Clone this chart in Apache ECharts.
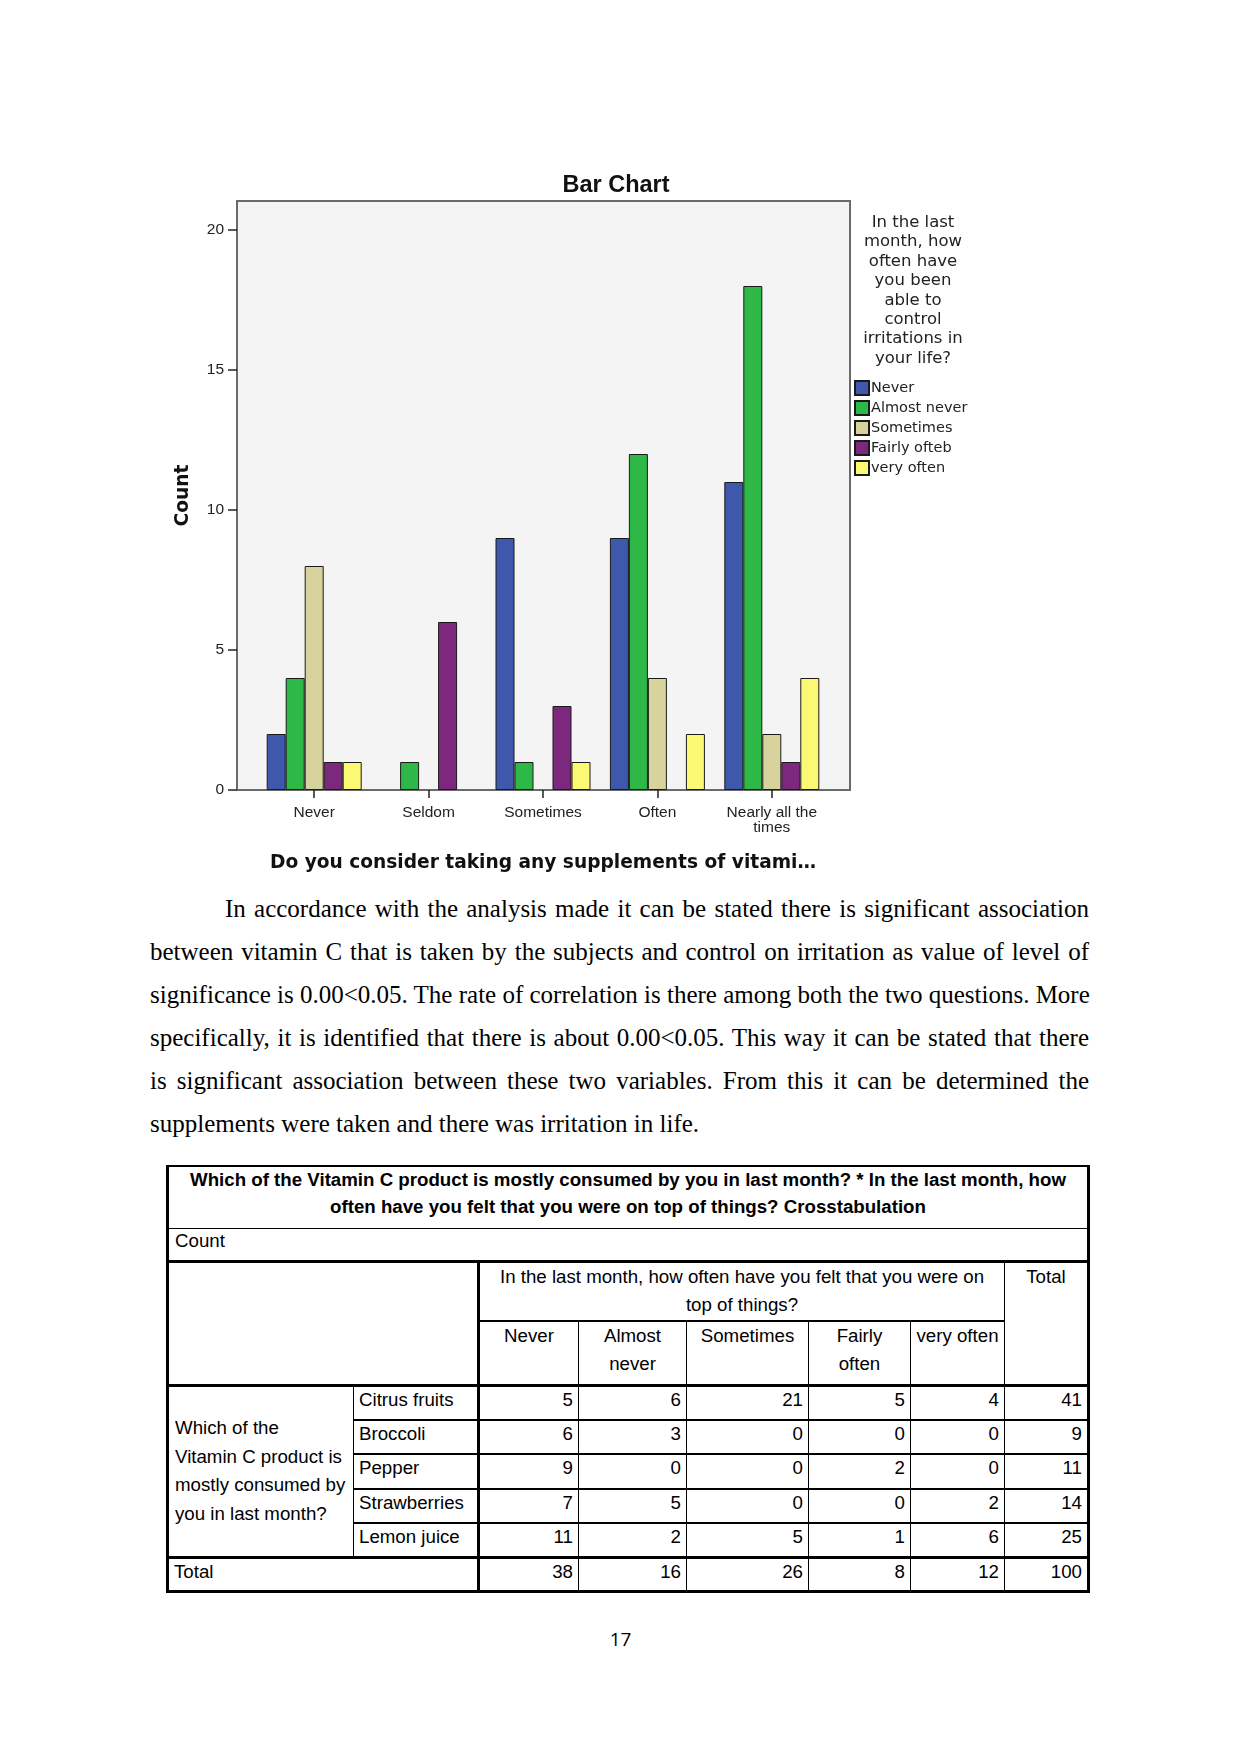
<!DOCTYPE html>
<html>
<head>
<meta charset="utf-8">
<script src="https://cdn.jsdelivr.net/npm/echarts@6/dist/echarts.min.js"></script>
<style>
  html, body { margin: 0; padding: 0; background: #fff; }
  body { width: 1241px; height: 1754px; position: relative; overflow: hidden; }
  #chart { position: absolute; left: 0; top: 0; width: 1241px; height: 880px; }
  #para { position: absolute; left: 150px; top: 887px; width: 939px;
          font-family: "Liberation Serif", "Times New Roman", serif; font-size: 25px;
          line-height: 43px; color: #000; }
  #para div { white-space: nowrap; text-align: justify; text-align-last: justify; }
  #para div.first { padding-left: 75px; }
  #para div.last { text-align: left; text-align-last: left; }
  #tbl { position: absolute; left: 166px; top: 1165px; border-collapse: collapse;
         font-family: "Liberation Sans", Arial, sans-serif; font-size: 18.7px; color: #000; }
  #tbl td { padding: 0 5px; vertical-align: top; line-height: 28px; box-sizing: border-box; }
  #pg { position: absolute; left: 0; width: 1241px; top: 1626px; text-align: center;
        font-family: "Open Sans", Lato, sans-serif; font-size: 19px; }
</style>
</head>
<body>
<div id="chart"></div>
<div id="para"></div>
<table id="tbl"></table>
<div id="pg">17</div>
<script>
// ---------------- chart data ----------------
var categories = ['Never', 'Seldom', 'Sometimes', 'Often', 'Nearly all the\ntimes'];
var seriesNames = ['Never', 'Almost never', 'Sometimes', 'Fairly ofteb', 'very often'];
var seriesColors = ['#3E58AC', '#2EB848', '#D8D29C', '#7C287D', '#FBF873'];
var valNever       = [2, 0, 9, 9, 11];
var valAlmostNever = [4, 1, 1, 12, 18];
var valSometimes   = [8, 0, 0, 4, 2];
var valFairlyOften = [1, 6, 3, 0, 1];
var valVeryOften   = [1, 0, 1, 2, 4];
var yTicks = [0, 5, 10, 15, 20];
var chartTitle = 'Bar Chart';
var xAxisTitle = 'Do you consider taking any supplements of vitami\u2026';
var yAxisTitle = 'Count';
var legendTitle = 'In the last\nmonth, how\noften have\nyou been\nable to\ncontrol\nirritations in\nyour life?';

// ---------------- page text / table data ----------------
var paragraphLines = [
  'In accordance with the analysis made it can be stated there is significant association',
  'between vitamin C that is taken by the subjects and control on irritation as value of level of',
  'significance is 0.00<0.05. The rate of correlation is there among both the two questions. More',
  'specifically, it is identified that there is about 0.00<0.05. This way it can be stated that there',
  'is significant association between these two variables. From this it can be determined the',
  'supplements were taken and there was irritation in life.'
];
var tableTitle = 'Which of the Vitamin C product is mostly consumed by you in last month? * In the last month, how often have you felt that you were on top of things? Crosstabulation';
var colGroupTitle = 'In the last month, how often have you felt that you were on top of things?';
var colHeads = ['Never', 'Almost<br>never', 'Sometimes', 'Fairly<br>often', 'very often'];
var rowGroupLines = ['Which of the', 'Vitamin C product is', 'mostly consumed by', 'you in last month?'];
var rowNames = ['Citrus fruits', 'Broccoli', 'Pepper', 'Strawberries', 'Lemon juice'];
var tabNever     = [5, 6, 9, 7, 11];
var tabAlmost    = [6, 3, 0, 5, 2];
var tabSometimes = [21, 0, 0, 0, 5];
var tabFairly    = [5, 0, 2, 0, 1];
var tabVery      = [4, 0, 0, 2, 6];
var rowTotals    = [41, 9, 11, 14, 25];
var colTotals    = [38, 16, 26, 8, 12, 100];

// ---------------- chart ----------------
var seriesValues = [valNever, valAlmostNever, valSometimes, valFairlyOften, valVeryOften];
var frameL = 237, frameT = 201, frameR = 850, frameB = 790;
var dataL = 257, dataR = 829;

var chart = echarts.init(document.getElementById('chart'), null, { renderer: 'canvas' });
var series = seriesValues.map(function (vals, i) {
  return {
    type: 'bar', name: seriesNames[i], xAxisIndex: 1, yAxisIndex: 1,
    data: vals.map(function (v) { return v === 0 ? '-' : v; }),
    barWidth: 19, barGap: '0%',
    itemStyle: { color: seriesColors[i], borderColor: '#1a1a1a', borderWidth: 1 },
    emphasis: { disabled: true }, animation: false
  };
});

chart.setOption({
  animation: false,
  title: [
    { text: chartTitle, left: 611, top: 167, textAlign: 'center',
      textStyle: { fontFamily: 'Liberation Sans, Arial', fontWeight: 'bold', fontSize: 23.5, color: '#111', lineHeight: 28 } },
    { text: legendTitle, left: 908, top: 208, textAlign: 'center',
      textStyle: { fontFamily: 'DejaVu Sans', fontWeight: 'normal', fontSize: 16.5, color: '#222', lineHeight: 19.4 } }
  ],
  legend: {
    orient: 'vertical', left: 849, top: 375, itemWidth: 14, itemHeight: 14, itemGap: 4,
    icon: 'rect', data: seriesNames, selectedMode: false,
    textStyle: { fontFamily: 'DejaVu Sans', fontSize: 14.5, color: '#222', padding: [0, 0, 0, -3] }
  },
  grid: [
    { left: frameL, top: frameT, width: frameR - frameL, height: frameB - frameT, show: true,
      backgroundColor: '#f4f4f4', borderColor: '#6a6a6a', borderWidth: 2 },
    { left: dataL, top: frameT, width: dataR - dataL, height: frameB - frameT, show: false }
  ],
  xAxis: [
    { gridIndex: 0, type: 'value', show: false, min: 0, max: 1 },
    { gridIndex: 1, type: 'category', data: categories,
      axisLine: { show: false },
      axisTick: { show: true, alignWithLabel: true, interval: 0, length: 8, lineStyle: { color: '#222', width: 1.5 } },
      axisLabel: { interval: 0, fontFamily: 'Liberation Sans, Arial', fontSize: 15.5, color: '#222', margin: 15, lineHeight: 15 },
      name: xAxisTitle, nameLocation: 'middle', nameGap: 64,
      nameTextStyle: { fontFamily: 'DejaVu Sans', fontWeight: 'bold', fontSize: 18.6, color: '#111' } }
  ],
  yAxis: [
    { gridIndex: 0, type: 'value', show: false, min: 0, max: 1 },
    { gridIndex: 1, type: 'value', min: 0, max: (frameB - frameT) / 28, offset: dataL - frameL,
      splitLine: { show: false },
      axisLine: { show: false },
      axisTick: { show: true, length: 9, customValues: yTicks, lineStyle: { color: '#222', width: 1.5 } },
      axisLabel: { customValues: yTicks, fontFamily: 'Liberation Sans, Arial', fontSize: 15.5, color: '#222', margin: 13 },
      name: yAxisTitle, nameLocation: 'middle', nameGap: 44, nameRotate: 90,
      nameTextStyle: { fontFamily: 'DejaVu Sans', fontWeight: 'bold', fontSize: 18.6, color: '#111' } }
  ],
  series: series
});

// ---------------- paragraph ----------------
var para = document.getElementById('para');
paragraphLines.forEach(function (line, i) {
  var d = document.createElement('div');
  if (i === 0) d.className = 'first';
  if (i === paragraphLines.length - 1) d.className = 'last';
  d.textContent = line;
  para.appendChild(d);
});

// ---------------- table ----------------
var colW = [186, 125, 100, 108, 122, 102, 94, 84];
var thin = '1.3px solid #000', mid = '2px solid #000', thick = '3px solid #000';
var tabCols = [tabNever, tabAlmost, tabSometimes, tabFairly, tabVery, rowTotals];
var h = '';
h += '<colgroup>' + colW.map(function (w) { return '<col style="width:' + w + 'px">'; }).join('') + '</colgroup>';
h += '<tr style="height:62px"><td colspan="8" style="border:' + thin + ';border-left:' + thick + ';border-right:' + thick + ';border-top:' + mid + ';text-align:center;font-weight:bold;padding:0 14px;line-height:26.5px;padding-top:0">' + tableTitle + '</td></tr>';
h += '<tr style="height:33px"><td colspan="8" style="border-left:' + thick + ';border-right:' + thick + ';line-height:24px;padding-left:6px">Count</td></tr>';
h += '<tr style="height:60px"><td colspan="2" rowspan="2" style="border:' + thick + '"></td>' +
     '<td colspan="5" style="border-top:' + thick + ';border-bottom:' + mid + ';border-right:' + thin + ';text-align:center;padding:0 14px">' + colGroupTitle + '</td>' +
     '<td rowspan="2" style="border-top:' + thick + ';border-right:' + thick + ';text-align:center">Total</td></tr>';
h += '<tr style="height:64px">' + colHeads.map(function (c) {
  return '<td style="border-right:' + thin + ';text-align:center">' + c + '</td>';
}).join('') + '</tr>';
rowNames.forEach(function (rn, r) {
  h += '<tr style="height:34.6px">';
  if (r === 0) {
    h += '<td rowspan="5" style="border-left:' + thick + ';border-top:' + thick + ';border-right:' + thin + ';vertical-align:middle;line-height:28.7px;white-space:nowrap;padding-left:6px;padding-right:0">' + rowGroupLines.join('<br>') + '</td>';
  }
  var bt = r === 0 ? thick : mid;
  h += '<td style="border-top:' + bt + ';border-right:' + thick + ';line-height:26px">' + rn + '</td>';
  tabCols.forEach(function (col, c) {
    h += '<td style="border-top:' + bt + ';text-align:right;line-height:26px;border-right:' + (c === 5 ? thick : thin) + '">' + col[r] + '</td>';
  });
  h += '</tr>';
});
h += '<tr style="height:34px"><td colspan="2" style="border-left:' + thick + ';border-top:' + thick + ';border-bottom:' + thick + ';border-right:' + thick + ';line-height:26px">Total</td>';
colTotals.forEach(function (v, c) {
  h += '<td style="border-top:' + thick + ';border-bottom:' + thick + ';text-align:right;line-height:26px;border-right:' + (c === 5 ? thick : thin) + '">' + v + '</td>';
});
h += '</tr>';
document.getElementById('tbl').innerHTML = h;
</script>
</body>
</html>
